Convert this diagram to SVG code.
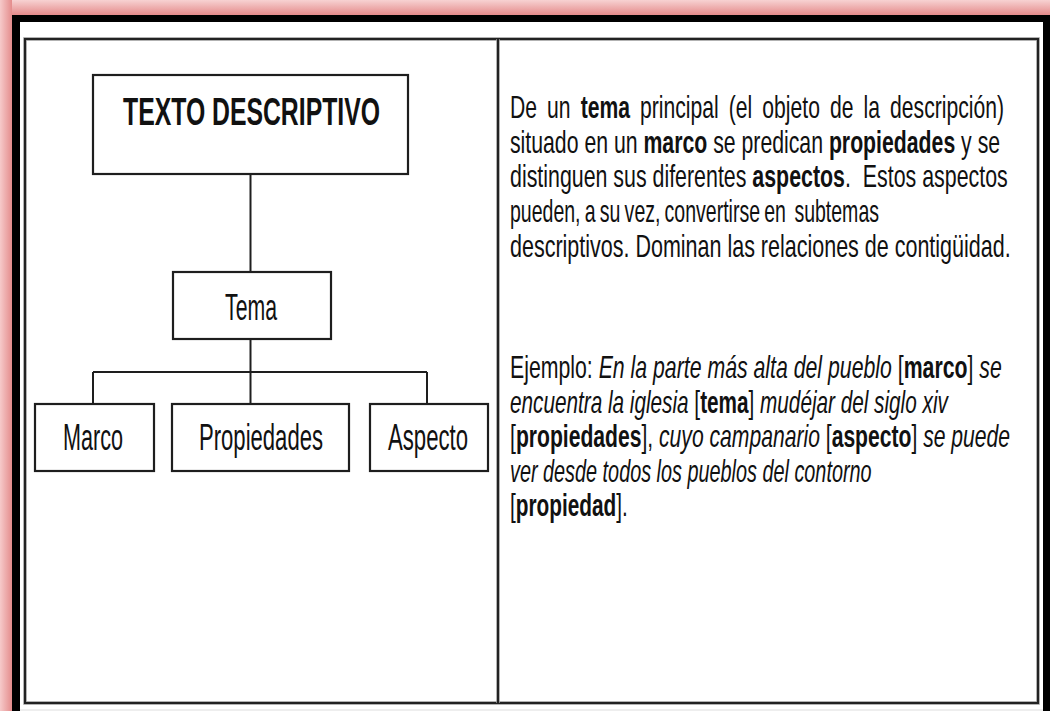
<svg xmlns="http://www.w3.org/2000/svg" width="1050" height="711" viewBox="0 0 1050 711">
  <defs>
    <linearGradient id="glowTop" x1="0" y1="0" x2="0" y2="1">
      <stop offset="0" stop-color="#f7d2d2"/>
      <stop offset="1" stop-color="#e48a8a"/>
    </linearGradient>
    <linearGradient id="glowLeft" x1="0" y1="0" x2="1" y2="0">
      <stop offset="0" stop-color="#f6caca"/>
      <stop offset="1" stop-color="#e48c8c"/>
    </linearGradient>
  </defs>
  <style>
    .box { fill: #ffffff; stroke: #1e1e1e; stroke-width: 2.2; }
    .conn { stroke: #1e1e1e; stroke-width: 2; fill: none; }
    .lbl { font-family: "Liberation Sans", Arial, sans-serif; font-size: 37px; fill: #111; }
    .title { font-family: "Liberation Sans", Arial, sans-serif; font-size: 39px; font-weight: bold; fill: #111; }
    .body { font-family: "Liberation Sans", Arial, sans-serif; font-size: 32px; fill: #111; }
    .b { font-weight: bold; }
    .i { font-style: italic; }
  </style>

  <!-- background, glow and frame -->
  <rect x="0" y="0" width="1050" height="711" fill="#ffffff"/>
  <rect x="0" y="0" width="1050" height="15" fill="url(#glowTop)"/>
  <rect x="0" y="0" width="12" height="711" fill="url(#glowLeft)"/>
  <rect x="12" y="15" width="1038" height="7" fill="#000000"/>
  <rect x="12" y="15" width="8" height="696" fill="#000000"/>
  <rect x="1043" y="15" width="7" height="696" fill="#000000"/>
  <line x1="20" y1="710" x2="1043" y2="710" stroke="#dddddd" stroke-width="1"/>

  <!-- table -->
  <rect x="25" y="39" width="1013" height="664" fill="#ffffff" stroke="#999999" stroke-width="3.5"/>
  <rect x="25" y="39" width="1013" height="664" fill="none" stroke="#222222" stroke-width="2"/>
  <line x1="498" y1="39" x2="498" y2="703" stroke="#999999" stroke-width="3.5"/>
  <line x1="498" y1="39" x2="498" y2="703" stroke="#222222" stroke-width="2"/>

  <!-- connectors -->
  <g id="connectors">
    <line class="conn" x1="250.5" y1="174" x2="250.5" y2="272"/>
    <line class="conn" x1="250.5" y1="339" x2="250.5" y2="404"/>
    <line class="conn" x1="93" y1="372" x2="427" y2="372"/>
    <line class="conn" x1="93" y1="372" x2="93" y2="404"/>
    <line class="conn" x1="427" y1="372" x2="427" y2="404"/>
  </g>

  <!-- nodes -->
  <g id="node-texto-descriptivo">
    <rect class="box" x="93" y="75" width="315" height="99"/>
    <text class="title" x="123" y="125" textLength="257" lengthAdjust="spacingAndGlyphs">TEXTO DESCRIPTIVO</text>
  </g>
  <g id="node-tema">
    <rect class="box" x="173" y="272" width="158" height="67"/>
    <text class="lbl" x="225" y="320" textLength="52" lengthAdjust="spacingAndGlyphs">Tema</text>
  </g>
  <g id="node-marco">
    <rect class="box" x="35" y="404" width="119" height="67"/>
    <text class="lbl" x="63" y="450" textLength="60" lengthAdjust="spacingAndGlyphs">Marco</text>
  </g>
  <g id="node-propiedades">
    <rect class="box" x="172" y="404" width="177" height="67"/>
    <text class="lbl" x="199" y="450" textLength="124" lengthAdjust="spacingAndGlyphs">Propiedades</text>
  </g>
  <g id="node-aspecto">
    <rect class="box" x="370" y="404" width="118" height="67"/>
    <text class="lbl" x="388" y="450" textLength="80" lengthAdjust="spacingAndGlyphs">Aspecto</text>
  </g>

  <!-- description text -->
  <g id="description">
    <text class="body" transform="translate(510,118) scale(0.66,1)" word-spacing="6.4">De un <tspan class="b">tema</tspan> principal (el objeto de la descripción)</text>
    <text class="body" transform="translate(510,152.7) scale(0.664,1)">situado en un <tspan class="b">marco</tspan> se predican <tspan class="b">propiedades</tspan> y se</text>
    <text class="body" transform="translate(510,187.4) scale(0.668,1)" xml:space="preserve">distinguen sus diferentes <tspan class="b">aspectos</tspan>.  Estos aspectos</text>
    <text class="body" transform="translate(510,222.1) scale(0.61,1)" word-spacing="-2" xml:space="preserve">pueden, a su vez, convertirse en  subtemas</text>
    <text class="body" transform="translate(510,256.8) scale(0.672,1)">descriptivos. Dominan las relaciones de contigüidad.</text>
  </g>
  <g id="example">
    <text class="body" transform="translate(510,378) scale(0.665,1)">Ejemplo: <tspan class="i">En la parte más alta del pueblo</tspan> [<tspan class="b">marco</tspan>] <tspan class="i">se</tspan></text>
    <text class="body" transform="translate(510,412.5) scale(0.648,1)"><tspan class="i">encuentra la iglesia</tspan> [<tspan class="b">tema</tspan>] <tspan class="i">mudéjar del siglo xiv</tspan></text>
    <text class="body" transform="translate(510,447) scale(0.66,1)">[<tspan class="b">propiedades</tspan>], <tspan class="i">cuyo campanario</tspan> [<tspan class="b">aspecto</tspan>] <tspan class="i">se puede</tspan></text>
    <text class="body i" transform="translate(510,481.5) scale(0.62,1)">ver desde todos los pueblos del contorno</text>
    <text class="body" transform="translate(510,516) scale(0.65,1)">[<tspan class="b">propiedad</tspan>].</text>
  </g>
</svg>
